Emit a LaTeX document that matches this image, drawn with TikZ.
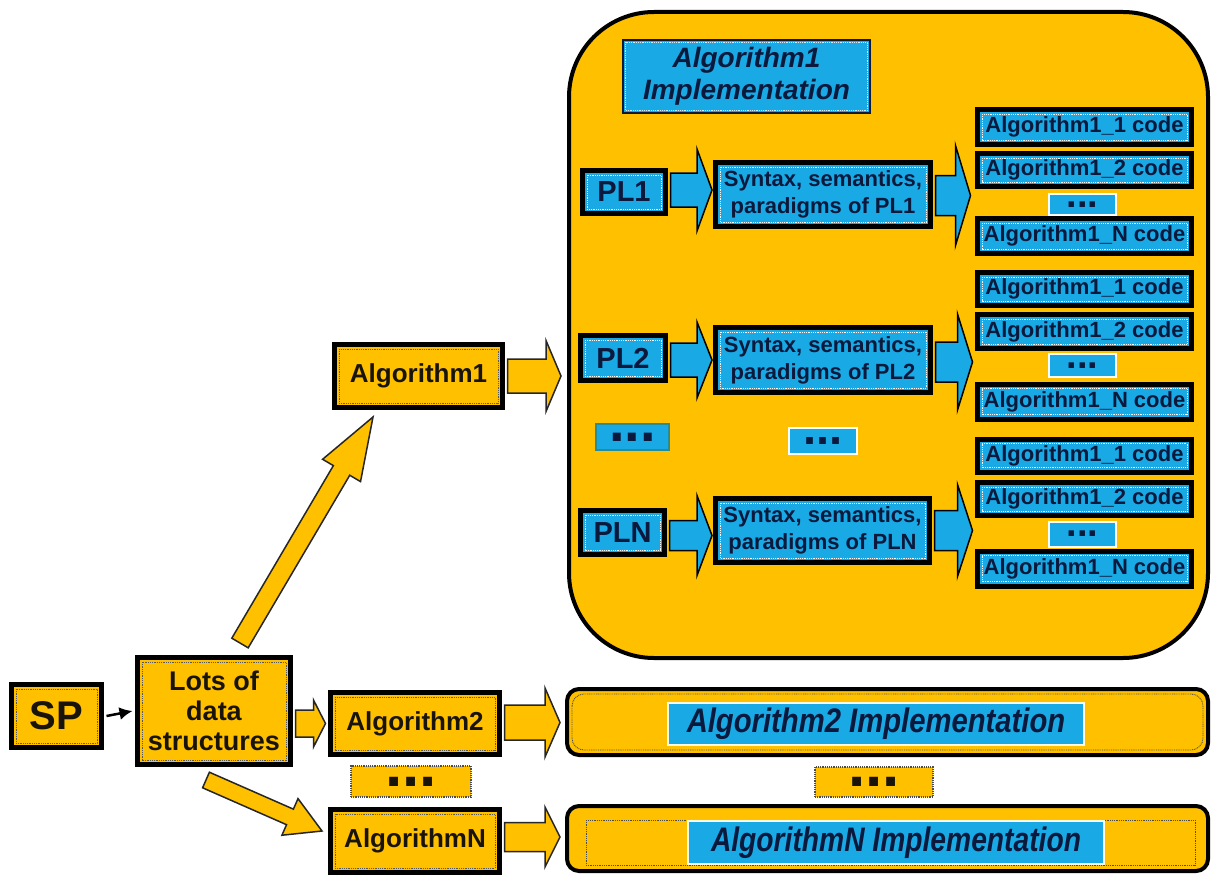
\documentclass[tikz,border=0pt]{standalone}
\usepackage{fontspec}
\setmainfont{Liberation Sans}
\usepackage{graphicx}
\usetikzlibrary{calc,arrows.meta}
\definecolor{orng}{RGB}{255,192,0}
\definecolor{skyb}{RGB}{25,170,230}
\definecolor{navy}{RGB}{10,25,60}
\definecolor{txtk}{RGB}{25,20,10}
\definecolor{cream}{RGB}{255,250,225}
\definecolor{teal2}{RGB}{40,140,150}
\newcommand\barrow[6]{%
  \coordinate (ba-hb) at ($(#3)!#6!(#2)$);
  \draw[#1] ($(#2)!#4!90:(#3)$) -- ($(ba-hb)!#4!90:(#3)$) -- ($(ba-hb)!#5!90:(#3)$) -- (#3)
    -- ($(ba-hb)!#5!-90:(#3)$) -- ($(ba-hb)!#4!-90:(#3)$) -- ($(#2)!#4!-90:(#3)$) -- cycle;}
\tikzset{
  idots/.style 2 args={path picture={\draw[#1, line width=0.9pt, dash pattern=on 0.9pt off 0.9pt]
      ([shift={(#2,-#2)}]path picture bounding box.north west) rectangle
      ([shift={(-#2,#2)}]path picture bounding box.south east);}},
  base/.style={align=center, inner sep=0pt},
  obox/.style={base, fill=orng, draw=black, line width=5pt, text=txtk, idots={gray!70!black}{4.5pt}},
  bbox/.style={base, fill=skyb, draw=black, line width=5pt, text=navy, idots={white}{4.5pt}},
  spbox/.style={obox, font=\fontsize{40}{44}\selectfont\bfseries},
  lotsbox/.style={obox, font=\fontsize{27}{30}\selectfont\bfseries},
  algbox/.style={obox, font=\fontsize{26}{30}\selectfont\bfseries},
  plbox/.style={bbox, font=\fontsize{29}{32}\selectfont\bfseries},
  synbox/.style={bbox, font=\fontsize{22}{27}\selectfont\bfseries},
  codebox/.style={bbox, font=\fontsize{22}{26}\selectfont\bfseries, minimum width=214pt},
  cdots/.style={base, fill=skyb, draw=white, line width=2pt, text=navy, font=\fontsize{38}{38}\selectfont\bfseries, minimum width=67pt},
  ldots/.style={base, fill=skyb, draw=teal2, line width=2pt, text=navy, font=\fontsize{56}{56}\selectfont\bfseries},
  mdots/.style={base, fill=skyb, draw=white, line width=2pt, text=navy, font=\fontsize{47}{47}\selectfont\bfseries},
  odots/.style={base, fill=orng, draw=gray!60!black, line width=1.2pt, densely dotted, text=txtk, font=\fontsize{62}{62}\selectfont\bfseries},
  implbig/.style={base, fill=orng, draw=black, line width=4pt, rounded corners=85pt},
  implbar/.style={base, fill=orng, draw=black, line width=4pt, rounded corners=12pt, idots={gray!60!black}{5pt}},
  ttl/.style={base, fill=skyb, text=navy, draw=navy, line width=1.5pt, idots={white!80!skyb}{2.5pt}, font=\fontsize{28}{32}\selectfont\bfseries\itshape},
  ttlbar/.style={base, fill=skyb, text=navy, draw=cream, line width=2pt, font=\fontsize{34}{38}\selectfont\bfseries\itshape},
  oarrow/.style={fill=orng, draw=black!85, line width=1.5pt, line join=miter},
  barr/.style={fill=skyb, draw=black, line width=1.5pt, line join=miter},
}
\begin{document}
\begin{tikzpicture}[x=1pt,y=-1pt]
\useasboundingbox (0,0) rectangle (1214,875);
\fill[white] (0,0) rectangle (1214,875);

% implementation containers
\node[implbig, minimum width=639pt, minimum height=646pt] (impl1) at (888.5,335) {};
\node[implbar, minimum width=641pt, minimum height=66pt] (impl2) at (887.5,722) {};
\node[implbar, minimum width=641pt, minimum height=65pt, path picture={}] (implN) at (887.5,838.5) {};
\draw[gray!60!black, line width=0.9pt, dash pattern=on 0.9pt off 0.9pt]
  ([shift={(21pt,-16pt)}]implN.north west) rectangle ([shift={(-15pt,8pt)}]implN.south east);

% left part
\node[spbox, minimum width=90pt, minimum height=63pt] (SP) at (56.5,716) {SP};
\node[lotsbox, minimum width=153pt, minimum height=107pt] (Lots) at (214,711) {Lots of\\data\\structures};
\node[algbox, minimum width=168pt, minimum height=63pt] (Alg1) at (418.5,376) {Algorithm1};
\node[algbox, minimum width=169pt, minimum height=62pt] (Alg2) at (415,723.5) {Algorithm2};
\node[algbox, minimum width=169pt, minimum height=63pt] (AlgN) at (415,841) {AlgorithmN};
\node[odots, minimum width=120pt, minimum height=31pt] (odl) at (411,781.5) {...};
\node[odots, minimum width=118pt, minimum height=30pt] (odr) at (874,782) {...};

% titles
\node[ttl, minimum width=247pt, minimum height=73pt] (t1) at (746.5,76.5) {Algorithm1\\Implementation};
\node[ttlbar, minimum width=416pt, minimum height=42pt] (t2) at (876,724) {\scalebox{0.86}[1]{Algorithm2 Implementation}};
\node[ttlbar, minimum width=416pt, minimum height=43pt] (tN) at (896,842.5) {\scalebox{0.83}[1]{AlgorithmN Implementation}};

% PL rows
\node[plbox, minimum width=83pt, minimum height=43pt] (PL1) at (624,192) {PL1};
\node[synbox, minimum width=215pt, minimum height=64pt] (Syn1) at (823,194.5) {Syntax, semantics,\\paradigms of PL1};
\node[plbox, minimum width=85pt, minimum height=45pt] (PL2) at (623,358) {PL2};
\node[synbox, minimum width=215pt, minimum height=65pt] (Syn2) at (823,360) {Syntax, semantics,\\paradigms of PL2};
\node[plbox, minimum width=84pt, minimum height=44pt] (PLN) at (622.5,532.5) {PLN};
\node[synbox, minimum width=214pt, minimum height=64pt] (SynN) at (822.5,530.5) {Syntax, semantics,\\paradigms of PLN};
\node[ldots, minimum width=73pt, minimum height=26pt] (ld) at (632.5,437) {...};
\node[mdots, minimum width=68pt, minimum height=26pt] (md) at (823,441) {...};

% code groups
\node[codebox, minimum height=35pt] (c11) at (1084.5,127) {Algorithm1\_1 code};
\node[codebox, minimum height=33pt] (c12) at (1084.5,170) {Algorithm1\_2 code};
\node[cdots, minimum height=21pt] (c1d) at (1082.5,204.5) {...};
\node[codebox, minimum height=35pt] (c1N) at (1084.5,236) {Algorithm1\_N code};

\node[codebox, minimum height=33pt] (c21) at (1084.5,289) {Algorithm1\_1 code};
\node[codebox, minimum height=34pt] (c22) at (1084.5,331.5) {Algorithm1\_2 code};
\node[cdots, minimum height=23pt] (c2d) at (1082.5,365.5) {...};
\node[codebox, minimum height=35pt] (c2N) at (1084.5,401.5) {Algorithm1\_N code};

\node[codebox, minimum height=33pt] (c31) at (1084.5,455.5) {Algorithm1\_1 code};
\node[codebox, minimum height=33pt] (c32) at (1084.5,499) {Algorithm1\_2 code};
\node[cdots, minimum height=25pt] (c3d) at (1082.5,534) {...};
\node[codebox, minimum height=35pt] (c3N) at (1084.5,568.5) {Algorithm1\_N code};

% connectors
\draw[line width=2.5pt, -{Latex[length=13pt,width=13pt]}] ([xshift=2.5pt]SP.east) -- ([xshift=-2.5pt]Lots.west);

\coordinate (la) at ([xshift=2.5pt]Lots.east |- Alg2.west);
\coordinate (lb) at ([xshift=-2.5pt]Alg2.west);
\barrow{oarrow}{la}{lb}{13.5pt}{23.5pt}{12pt}

\coordinate (u0) at (240,643);
\coordinate (u1) at (373,417);
\barrow{oarrow}{u0}{u1}{9.5pt}{22pt}{62pt}

\coordinate (d0) at (206,780);
\coordinate (d1) at (322,831);
\barrow{oarrow}{d0}{d1}{8.5pt}{20pt}{35pt}

\coordinate (a1a) at ([xshift=2.5pt]Alg1.east);
\coordinate (a1b) at ([xshift=-6pt]impl1.west |- Alg1.east);
\barrow{oarrow}{a1a}{a1b}{17pt}{35.5pt}{15pt}

\coordinate (a2a) at ([xshift=2.5pt,yshift=1pt]Alg2.east);
\coordinate (a2b) at ([xshift=-5pt,yshift=1pt]impl2.west |- Alg2.east);
\barrow{oarrow}{a2a}{a2b}{17.5pt}{34.5pt}{15pt}

\coordinate (ana) at ([xshift=2.5pt,yshift=4pt]AlgN.east);
\coordinate (anb) at ([xshift=-5pt,yshift=4pt]implN.west |- AlgN.east);
\barrow{oarrow}{ana}{anb}{14.5pt}{30pt}{15pt}

\coordinate (p1a) at ([xshift=2.5pt,yshift=2pt]PL1.east);
\coordinate (p1b) at ([xshift=-1pt,yshift=2pt]Syn1.west |- PL1.east);
\barrow{barr}{p1a}{p1b}{17pt}{41pt}{15pt}
\coordinate (s1a) at ([xshift=2.5pt,yshift=-1pt]Syn1.east);
\coordinate (s1b) at ([xshift=-4.5pt,yshift=-1pt]c12.west |- Syn1.east);
\barrow{barr}{s1a}{s1b}{20pt}{50pt}{15pt}

\coordinate (p2a) at ([xshift=2.5pt,yshift=-2pt]PL2.east);
\coordinate (p2b) at ([xshift=-1pt,yshift=-2pt]Syn2.west |- PL2.east);
\barrow{barr}{p2a}{p2b}{17pt}{38pt}{15pt}
\coordinate (s2a) at ([xshift=2.5pt,yshift=-2pt]Syn2.east);
\coordinate (s2b) at ([xshift=-2.5pt,yshift=-2pt]c22.west |- Syn2.east);
\barrow{barr}{s2a}{s2b}{20pt}{48pt}{15pt}

\coordinate (pna) at ([xshift=2.5pt,yshift=-3pt]PLN.east);
\coordinate (pnb) at ([xshift=-1pt,yshift=-3pt]SynN.west |- PLN.east);
\barrow{barr}{pna}{pnb}{15pt}{40pt}{15pt}
\coordinate (sna) at ([xshift=2.5pt]SynN.east);
\coordinate (snb) at ([xshift=-2.5pt]c32.west |- SynN.east);
\barrow{barr}{sna}{snb}{20pt}{46pt}{15pt}
\end{tikzpicture}
\end{document}
